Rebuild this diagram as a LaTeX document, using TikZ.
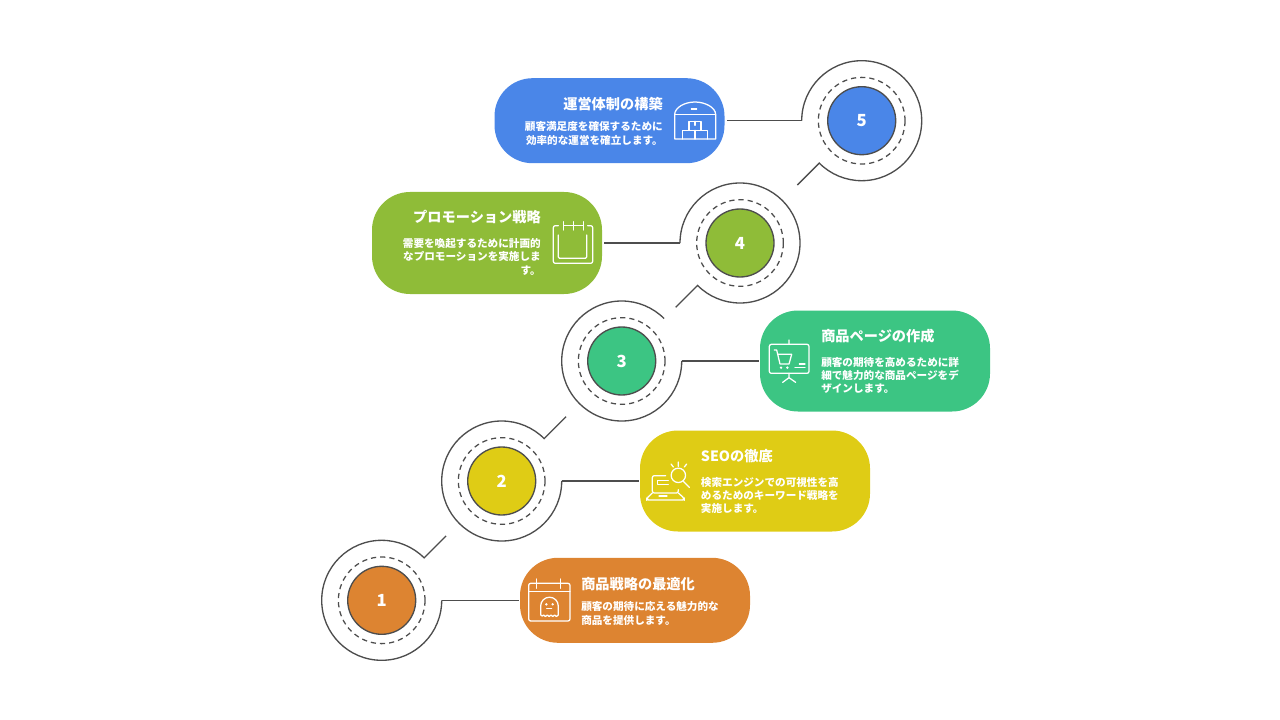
\documentclass[tikz,border=0pt]{standalone}
\usepackage{fontspec}
\setmainfont{Noto Sans CJK JP}
\definecolor{cblue}{HTML}{4A86E8}
\definecolor{cgreen}{HTML}{8FBC38}
\definecolor{cteal}{HTML}{3CC583}
\definecolor{cyellow}{HTML}{DFCC15}
\definecolor{corange}{HTML}{DD8431}
\definecolor{cline}{HTML}{4D4D4D}
\tikzset{
  bar/.style={fill=#1,rounded corners=28.5pt,minimum width=172.5pt,inner sep=0pt},
  disc/.style={circle,fill=#1,draw=cline,line width=1pt,minimum size=51pt,inner sep=0pt,text=white,font=\fontsize{12.5}{14}\selectfont\bfseries},
  wire/.style={draw=cline,line width=1pt},
  ring/.style={draw=cline,line width=.95pt,dash pattern=on 3.9pt off 3pt},
  titletext/.style={text=white,inner sep=0pt,font=\fontsize{10.65}{13}\selectfont\bfseries},
  bodytext/.style={text=white,inner sep=0pt,font=\fontsize{7.95}{#1}\selectfont\bfseries},
  icon/.style={draw=white,line width=.95pt,line cap=round,line join=round},
  zoomgrid/.style={x=.25pt,y=-.25pt}
}
\begin{document}
\begin{tikzpicture}[x=.75pt,y=-.75pt]
\useasboundingbox (0,0) rectangle (1280,720);
% bars
\node[bar=cblue,minimum height=63.75pt] (bar5) at (609.5,120.7) {};
\node[bar=cgreen,minimum height=76.5pt] (bar4) at (487,243) {};
\node[bar=cteal,minimum height=75.75pt] (bar3) at (875,361) {};
\node[bar=cyellow,minimum height=75.75pt] (bar2) at (755,481) {};
\node[bar=corange,minimum height=63.75pt] (bar1) at (635,600.3) {};
% discs
\node[disc=cblue] (c5) at (861.7,120.7) {5};
\node[disc=cgreen] (c4) at (740,243) {4};
\node[disc=cteal] (c3) at (621.7,361) {3};
\node[disc=cyellow] (c2) at (501.7,481) {2};
\node[disc=corange] (c1) at (381.7,600.3) {1};
% dashed rings
\foreach \n in {1,...,5} \draw[ring] (c\n.center) circle[radius=32.5pt];
% outer arcs with their tails
\draw[wire] (c5.center) ++(180:45pt) coordinate (j5) arc[start angle=180,end angle=-135,radius=45pt] -- ++(225:23.25pt);
\draw[wire] (c4.center) ++(180:45pt) coordinate (j4) arc[start angle=180,end angle=-135,radius=45pt] -- ++(225:23.25pt);
\draw[wire] (c3.center) ++(0:45pt) coordinate (j3) arc[start angle=0,end angle=-315,radius=45pt];
\draw[wire] (c2.center) ++(0:45pt) coordinate (j2) arc[start angle=0,end angle=-315,radius=45pt] -- ++(45:23.25pt);
\draw[wire] (c1.center) ++(0:45pt) coordinate (j1) arc[start angle=0,end angle=-315,radius=45pt] -- ++(45:23.25pt);
% connectors
\draw[wire,shorten <=1.5pt] (bar5.east) -- (j5);
\draw[wire,shorten <=1.5pt] (bar4.east) -- (j4);
\draw[wire,shorten >=.75pt] (j3) -- (bar3.west);
\draw[wire,shorten >=.75pt] (j2) -- (bar2.west);
\draw[wire,shorten >=.75pt] (j1) -- (bar1.west);
% texts
\node[titletext,anchor=east] (t5) at (663,104) {運営体制の構築};
\node[bodytext=10.5pt,anchor=east,align=right] (b5) at (663,133.7) {顧客満足度を確保するために\\効率的な運営を確立します。};
\node[titletext,anchor=east] (t4) at (541,217) {プロモーション戦略};
\node[bodytext=10.1pt,anchor=east,align=right] (b4) at (541,256.5) {需要を喚起するために計画的\\なプロモーションを実施しま\\す。};
\node[titletext,anchor=west] (t3) at (821,336) {商品ページの作成};
\node[bodytext=9.75pt,anchor=west,align=left] (b3) at (821,375) {顧客の期待を高めるために詳\\細で魅力的な商品ページをデ\\ザインします。};
\node[titletext,anchor=west] (t2) at (700.7,456) {SEOの徹底};
\node[bodytext=9.75pt,anchor=west,align=left] (b2) at (700.7,495) {検索エンジンでの可視性を高\\めるためのキーワード戦略を\\実施します。};
\node[titletext,anchor=west] (t1) at (581,584) {商品戦略の最適化};
\node[bodytext=10pt,anchor=west,align=left] (b1) at (581,613.4) {顧客の期待に応える魅力的な\\商品を提供します。};
% icon 5: warehouse
\begin{scope}[shift={(670,98)},zoomgrid]
\draw[icon] (14,123) -- (14,50) .. controls (14,28) and (45,12) .. (75,12) .. controls (105,12) and (137,28) .. (137,50) -- (137,123) -- cycle;
\draw[icon] (14,50) -- (137,50);
\draw[icon] (64,33) -- (80,33);
\draw[icon] (37,123) -- (37,97) -- (112,97) -- (112,123);
\draw[icon] (75,97) -- (75,123);
\draw[icon] (57,97) -- (57,70) -- (93,70) -- (93,97);
\draw[icon] (75,70) -- (75,82);
\end{scope}
% icon 4: blank calendar
\begin{scope}[shift={(365,175)},zoomgrid]
\draw[icon,rounded corners=1.5pt] (580,152) -- (565,152) -- (565,265) -- (683,265) -- (683,152) -- (668,152);
\draw[icon,rounded corners=1pt] (580,180) -- (580,250) -- (665,250) -- (665,180);
\draw[icon] (595,140) -- (595,165) (625,140) -- (625,165) (655,140) -- (655,165);
\draw[icon] (597,152) -- (625,152) (627,152) -- (655,152);
\end{scope}
% icon 3: cart on a board
\begin{scope}[shift={(555,295)},zoomgrid]
\draw[icon,rounded corners=1.5pt] (643,148) rectangle (762,235);
\draw[icon] (702,135) -- (702,148) (702,235) -- (702,248) -- (683,262) (702,248) -- (722,262);
\draw[icon] (658,165) -- (665,165) -- (675,207) -- (702,207) -- (710,178) -- (668,178);
\fill[white] (678,218) circle[radius=1pt] (697,218) circle[radius=1pt];
\draw[icon] (733,207) -- (750,207) (720,217) -- (750,217);
\end{scope}
% icon 2: laptop with magnifier
\begin{scope}[shift={(645,458)},zoomgrid]
\draw[icon,rounded corners=1.5pt] (62,53) -- (22,53) -- (22,105) -- (100,105) -- (100,95);
\draw[icon,rounded corners=1.5pt] (22,105) -- (5,121) -- (5,126) -- (118,126) -- (118,121) -- (100,105);
\draw[icon] (42,114) -- (66,114);
\draw[icon] (70,68) -- (37,68) -- (37,80) -- (70,80);
\draw[icon] (100,52) circle[radius=5.4pt];
\draw[icon] (115,70) -- (133,88);
\draw[icon] (100,12) -- (100,25) (78,18) -- (85,27) (125,18) -- (118,27);
\end{scope}
% icon 1: calendar with ghost
\begin{scope}[shift={(315,535)},zoomgrid]
\draw[icon,rounded corners=1.5pt] (641,145) rectangle (765,258);
\draw[icon] (641,170) -- (765,170);
\draw[icon] (665,132) -- (665,160) (737,132) -- (737,160);
\draw[icon] (677,240) -- (677,213) arc[start angle=180,end angle=0,radius=6.6pt] -- (730,240)
  .. controls (726,246) and (722,246) .. (719,240) .. controls (715,246) and (711,246) .. (708,240)
  .. controls (704,246) and (700,246) .. (697,240) .. controls (693,246) and (689,246) .. (686,240)
  .. controls (684,244) and (680,244) .. (677,240);
\draw[icon] (695,221) -- (710,221);
\fill[white] (694,208) circle[radius=1pt] (713,208) circle[radius=1pt];
\end{scope}
\end{tikzpicture}
\end{document}
